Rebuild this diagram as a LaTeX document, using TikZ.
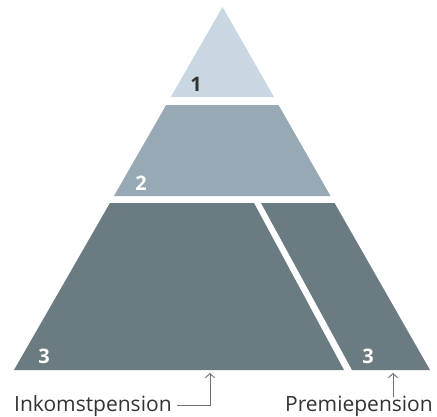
\documentclass[tikz,border=0pt]{standalone}
\usepackage{fontspec}
\setmainfont{Open Sans}
\usetikzlibrary{calc,arrows.meta}
\definecolor{tierone}{HTML}{C8D7E1}
\definecolor{tiertwo}{HTML}{96A9B4}
\definecolor{tierthree}{HTML}{6A7B82}
\definecolor{labelgray}{HTML}{333333}
\definecolor{pointergray}{HTML}{707070}
\begin{document}
\begin{tikzpicture}[x=1pt,y=-1pt,
  tiernum/.style={font=\bfseries\fontsize{20}{20}\selectfont,inner sep=0},
  caption/.style={font=\fontsize{21}{21}\selectfont,text=labelgray,inner sep=0},
  pointer/.style={draw=pointergray,line width=.9pt,-{Straight Barb[length=4pt,width=9pt]}}]
\useasboundingbox (0,0) rectangle (437,416);
\coordinate (apex) at (222.5,7);\coordinate (bl) at (14,370);\coordinate (br) at (430,370);
% three tiers, white gaps between
\fill[tierone] (apex)--($(apex)!.248!(bl)$)--($(apex)!.248!(br)$)--cycle;
\fill[tiertwo] ($(apex)!.270!(bl)$)--($(apex)!.521!(bl)$)--($(apex)!.521!(br)$)--($(apex)!.270!(br)$)--cycle;
\fill[tierthree] ($(apex)!.540!(bl)$)--(254,203)--(344,370)--(bl)--cycle;
\fill[tierthree] (261,203)--($(apex)!.540!(br)$)--(br)--(352,370)--cycle;
\node[tiernum,text=labelgray] (one) at (196,84){1};\node[tiernum,text=white] (two) at (141,183){2};
\node[tiernum,text=white] (threeL) at (44,356){3};\node[tiernum,text=white] (threeR) at (368,356){3};
% captions and pointers
\node[caption,anchor=base west] (inkomst) at (14,411){Inkomstpension};\node[caption,anchor=base east] (premie) at (433,411){Premiepension};
\coordinate (inktip) at (210,373);\coordinate (premtip) at (393,373);
\draw[pointer] ($(inkomst.east)+(5,0)$) -| (inktip);
\draw[pointer] ($(premie.north -| premtip)+(0,2)$) -- (premtip);
\end{tikzpicture}
\end{document}
